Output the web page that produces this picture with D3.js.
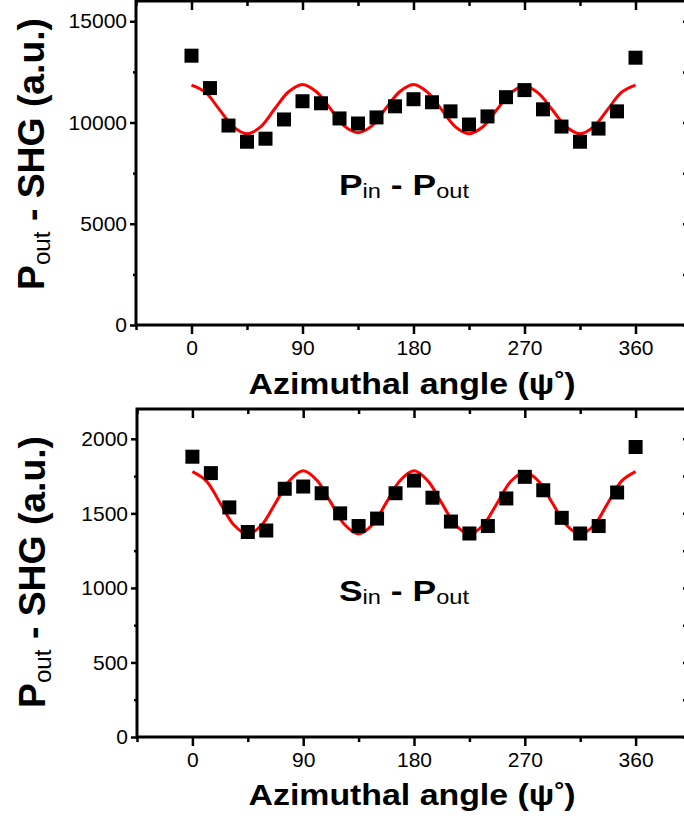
<!DOCTYPE html>
<html><head><meta charset="utf-8">
<script src="https://cdn.jsdelivr.net/npm/d3@7"></script>
<style>
html,body{margin:0;padding:0;background:#fff;overflow:hidden;}
svg{display:block;}
text{font-family:"Liberation Sans",Arial,sans-serif;}
</style></head>
<body>
<script>
// ---------- data ----------
const angles = [0,15,30,45,60,75,90,105,120,135,150,165,180,195,210,225,240,255,270,285,300,315,330,345,360];
const pinPout = [13300,11700,9850,9050,9200,10150,11050,10950,10200,9950,10250,10800,11150,11000,10550,9900,10300,11250,11600,10650,9800,9050,9700,10550,13200];
const sinPout = [1880,1770,1540,1375,1385,1665,1680,1635,1500,1415,1465,1635,1720,1605,1445,1365,1415,1600,1745,1655,1470,1365,1415,1640,1945];

const fitAngles = [0,11.25,22.5,33.75,45,56.25,67.5,78.75,90,101.25,112.5,123.75,135,146.25,157.5,168.75,180,191.25,202.5,213.75,225,236.25,247.5,258.75,270,281.25,292.5,303.75,315,326.25,337.5,348.75,360];
const fitPin = [11850,11500,10650,9800,9450,9800,10680,11520,11880,11520,10690,9830,9500,9830,10690,11520,11880,11500,10660,9800,9450,9790,10630,11450,11800,11450,10630,9790,9450,9800,10650,11500,11850];
const fitSin = [1780,1718,1570,1422,1360,1422,1570,1718,1785,1720,1572,1424,1362,1424,1572,1720,1785,1718,1570,1422,1360,1422,1568,1715,1775,1715,1568,1422,1360,1420,1570,1718,1780];

const xMajorTicks = [0,90,180,270,360];
const xMinorTicks = [-45,45,135,225,315,405];
const yTopMajor = [0,5000,10000,15000];
const yTopMinor = [2500,7500,12500];
const yBotMajor = [0,500,1000,1500,2000];
const yBotMinor = [250,750,1250,1750];

const W = 684, H = 816;
const svg = d3.select("body").append("svg").attr("width", W).attr("height", H);

function panel(cfg) {
  const x = d3.scaleLinear().domain([-45, 405]).range([cfg.left, 691]);
  const y = d3.scaleLinear().domain(cfg.ydom).range([cfg.bottom, cfg.top]);
  const g = svg.append("g");

  // bottom axis major
  const bx = g.append("g").attr("transform", `translate(0,${cfg.bottom})`)
    .call(d3.axisBottom(x).tickValues(xMajorTicks).tickSize(9).tickPadding(6).tickFormat(d3.format("d")));
  bx.select(".domain").remove();
  bx.selectAll("line").attr("stroke", "#000").attr("stroke-width", 2.5);
  bx.selectAll("text").attr("font-size", 21).attr("fill", "#000");
  const bxm = g.append("g").attr("transform", `translate(0,${cfg.bottom})`)
    .call(d3.axisBottom(x).tickValues(xMinorTicks).tickSize(5).tickFormat(""));
  bxm.select(".domain").remove();
  bxm.selectAll("line").attr("stroke", "#000").attr("stroke-width", 2.5);

  // top axis (ticks inward)
  const tx = g.append("g").attr("transform", `translate(0,${cfg.top})`)
    .call(d3.axisBottom(x).tickValues(xMajorTicks).tickSize(9).tickFormat(""));
  tx.select(".domain").remove();
  tx.selectAll("line").attr("stroke", "#000").attr("stroke-width", 2.5);
  const txm = g.append("g").attr("transform", `translate(0,${cfg.top})`)
    .call(d3.axisBottom(x).tickValues(xMinorTicks).tickSize(5).tickFormat(""));
  txm.select(".domain").remove();
  txm.selectAll("line").attr("stroke", "#000").attr("stroke-width", 2.5);

  // left axis
  const ly = g.append("g").attr("transform", `translate(${cfg.left},0)`)
    .call(d3.axisLeft(y).tickValues(cfg.yMajor).tickSize(6).tickPadding(3).tickFormat(d3.format("d")));
  ly.select(".domain").remove();
  ly.selectAll("line").attr("stroke", "#000").attr("stroke-width", 2.5);
  ly.selectAll("text").attr("font-size", 21).attr("fill", "#000");
  const lym = g.append("g").attr("transform", `translate(${cfg.left},0)`)
    .call(d3.axisLeft(y).tickValues(cfg.yMinor).tickSize(3).tickFormat(""));
  lym.select(".domain").remove();
  lym.selectAll("line").attr("stroke", "#000").attr("stroke-width", 2.5);

  // right axis (ticks inward)
  const ry = g.append("g").attr("transform", `translate(691,0)`)
    .call(d3.axisLeft(y).tickValues(cfg.yMajor.concat(cfg.yMinor)).tickSize(8).tickFormat(""));
  ry.select(".domain").remove();
  ry.selectAll("line").attr("stroke", "#000").attr("stroke-width", 2.5);

  // frame
  g.append("rect").attr("x", cfg.left).attr("y", cfg.top)
    .attr("width", 691 - cfg.left).attr("height", cfg.bottom - cfg.top)
    .attr("fill", "none").attr("stroke", "#000").attr("stroke-width", 3);

  // fit line
  const line = d3.line().x((d, i) => x(fitAngles[i])).y(d => y(d)).curve(d3.curveCatmullRom);
  g.append("path").datum(cfg.fit).attr("d", line)
    .attr("fill", "none").attr("stroke", "#ff0000").attr("stroke-width", 3);

  // points
  const s = 14;
  g.selectAll("rect.pt").data(cfg.vals).enter().append("rect").attr("class", "pt")
    .attr("x", (d, i) => x(angles[i]) - s / 2).attr("y", d => y(d) - s / 2)
    .attr("width", s).attr("height", s).attr("fill", "#000");

  // annotation
  const ann = g.append("text").attr("x", 404).attr("y", cfg.annY).attr("text-anchor", "middle")
    .attr("font-size", 30).attr("font-weight", "bold").attr("fill", "#000")
    .attr("textLength", 130).attr("lengthAdjust", "spacingAndGlyphs");
  ann.append("tspan").text(cfg.annA);
  ann.append("tspan").text("in").attr("font-size", 20).attr("font-weight", "normal").attr("dy", 3);
  ann.append("tspan").text(" - P").attr("dy", -3);
  ann.append("tspan").text("out").attr("font-size", 20).attr("font-weight", "normal").attr("dy", 3);

  // x title
  const xt = g.append("text").attr("x", 412).attr("y", cfg.xTitleY).attr("text-anchor", "middle")
    .attr("font-size", 30).attr("font-weight", "bold").attr("fill", "#000")
    .attr("textLength", 327).attr("lengthAdjust", "spacingAndGlyphs");
  xt.append("tspan").text("Azimuthal angle (ψ");
  xt.append("tspan").text("°").attr("font-size", 22).attr("dy", -7);
  xt.append("tspan").text(")").attr("dy", 7);

  // y title
  const yt = g.append("text")
    .attr("transform", `translate(${cfg.yTitleX},${cfg.yTitleC}) rotate(-90)`)
    .attr("text-anchor", "middle").attr("font-size", 37).attr("font-weight", "bold").attr("fill", "#000")
    .attr("textLength", 272).attr("lengthAdjust", "spacingAndGlyphs");
  yt.append("tspan").text("P");
  yt.append("tspan").text("out").attr("font-size", 24).attr("font-weight", "normal").attr("dy", 6);
  yt.append("tspan").text(" - SHG (a.u.)").attr("dy", -6);
}

panel({left: 136, top: 1, bottom: 325, ydom: [0, 16000], yMajor: yTopMajor, yMinor: yTopMinor,
  vals: pinPout, fit: fitPin, annY: 195, annA: "P", xTitleY: 394, yTitleX: 44, yTitleC: 154});
panel({left: 137, top: 409, bottom: 737, ydom: [0, 2200], yMajor: yBotMajor, yMinor: yBotMinor,
  vals: sinPout, fit: fitSin, annY: 601, annA: "S", xTitleY: 805, yTitleX: 45, yTitleC: 572});
</script>
</body></html>
